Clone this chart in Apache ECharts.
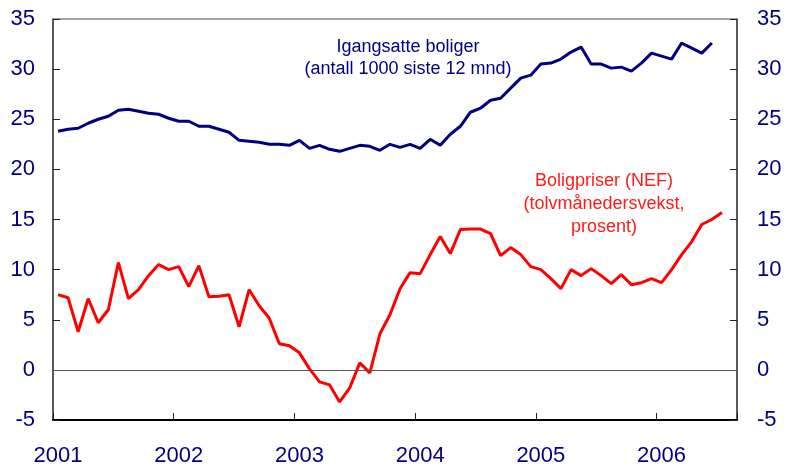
<!DOCTYPE html>
<html>
<head>
    <meta charset="utf-8">
    <script src="https://cdn.jsdelivr.net/npm/echarts@6/dist/echarts.min.js"></script>
    <style>
        html, body {
            margin: 0;
            padding: 0;
            background: #fff;
        }

        #chart {
            width: 787px;
            height: 470px;
        }
    </style>
</head>
<body>
<div id="chart"></div>
<script>
    const years = [2001, 2002, 2003, 2004, 2005, 2006]
    const monthsShownLastYear = 8

    // Igangsatte boliger, antall 1000 siste 12 mnd (jan 2001 - jun 2006)
    const housingStarts = [
        23.8, 24.0, 24.1, 24.6, 25.0, 25.3, 25.9, 26.0, 25.8, 25.6, 25.5, 25.1,
        24.8, 24.8, 24.3, 24.3, 24.0, 23.7, 22.9, 22.8, 22.7, 22.5, 22.5, 22.4,
        22.9, 22.1, 22.4, 22.0, 21.8, 22.1, 22.4, 22.3, 21.9, 22.5, 22.2, 22.5,
        22.1, 23.0, 22.4, 23.5, 24.3, 25.7, 26.1, 26.9, 27.1, 28.1, 29.1, 29.4,
        30.5, 30.6, 31.0, 31.7, 32.2, 30.5, 30.5, 30.1, 30.2, 29.8, 30.6, 31.6,
        31.3, 31.0, 32.6, 32.1, 31.6, 32.6
    ]

    // Boligpriser (NEF), tolvmånedersvekst i prosent (jan 2001 - jul 2006)
    const housePrices = [
        7.5, 7.2, 3.8, 7.1, 4.7, 6.0, 10.7, 7.1, 8.0, 9.4, 10.5, 10.0,
        10.3, 8.3, 10.4, 7.3, 7.35, 7.5, 4.3, 8.0, 6.4, 5.15, 2.6, 2.4,
        1.7, 0.1, -1.2, -1.5, -3.2, -1.8, 0.7, -0.3, 3.6, 5.5, 8.1, 9.7,
        9.6, 11.5, 13.3, 11.6, 14.0, 14.05, 14.05, 13.6, 11.4, 12.2, 11.5, 10.3,
        10.0, 9.1, 8.1, 10.0, 9.4, 10.1, 9.4, 8.6, 9.5, 8.5, 8.7, 9.1,
        8.7, 10.0, 11.5, 12.8, 14.5, 15.0, 15.7
    ]

    const yTicks = [-5, 0, 5, 10, 15, 20, 25, 30, 35]

    const months = []
    years.forEach((y, i) => {
        const n = i === years.length - 1 ? monthsShownLastYear : 12
        for (let m = 1; m <= n; m++) {
            months.push(y + '-' + (m < 10 ? '0' + m : m))
        }
    })

    const navy = '#000080'
    const red = '#ff0000'
    const fontFamily = '"Liberation Sans", Arial, sans-serif'

    const yAxisBase = {
        type: 'value',
        min: yTicks[0],
        max: yTicks[yTicks.length - 1],
        interval: yTicks[1] - yTicks[0],
        axisLine: {show: true, onZero: false, lineStyle: {color: '#222', width: 1.5}},
        axisTick: {show: true, inside: true, length: 7, lineStyle: {color: '#222'}},
        splitLine: {show: false},
        axisLabel: {color: navy, fontSize: 22, fontFamily: fontFamily}
    }

    const chart = echarts.init(document.getElementById('chart'))
    chart.setOption({
        animation: false,
        backgroundColor: '#fff',
        grid: {left: 53, right: 50, top: 19, bottom: 50},
        xAxis: [
            {
                type: 'category',
                data: months,
                boundaryGap: true,
                axisLine: {show: true, onZero: false, lineStyle: {color: '#000', width: 2}},
                axisTick: {
                    show: true,
                    inside: true,
                    length: 7,
                    interval: (i) => i % 12 === 0,
                    lineStyle: {color: '#222'}
                },
                axisLabel: {
                    interval: (i) => i % 12 === 0,
                    formatter: (v) => v.slice(0, 4),
                    color: navy,
                    fontSize: 22,
                    fontFamily: fontFamily,
                    margin: 25
                },
                splitLine: {show: false}
            },
            {
                type: 'category',
                data: months,
                position: 'top',
                axisLine: {show: true, onZero: false, lineStyle: {color: '#888', width: 1.5}},
                axisTick: {show: false},
                axisLabel: {show: false}
            }
        ],
        yAxis: [
            Object.assign({}, yAxisBase, {
                position: 'left',
                axisLabel: Object.assign({}, yAxisBase.axisLabel, {margin: 18})
            }),
            Object.assign({}, yAxisBase, {
                position: 'right',
                axisLabel: Object.assign({}, yAxisBase.axisLabel, {margin: 20})
            })
        ],
        series: [
            {
                name: 'Igangsatte boliger',
                type: 'line',
                data: housingStarts,
                symbol: 'none',
                lineStyle: {color: navy, width: 3},
                markLine: {
                    silent: true,
                    symbol: 'none',
                    label: {show: false},
                    lineStyle: {color: '#555', width: 1, type: 'solid'},
                    data: [{yAxis: 0}]
                }
            },
            {
                name: 'Boligpriser',
                type: 'line',
                data: housePrices,
                symbol: 'none',
                lineStyle: {color: red, width: 3}
            }
        ],
        graphic: [
            {
                type: 'text',
                x: 408,
                y: 36,
                style: {
                    text: 'Igangsatte boliger\n(antall 1000 siste 12 mnd)',
                    align: 'center',
                    verticalAlign: 'top',
                    fill: navy,
                    fontSize: 18,
                    fontFamily: fontFamily,
                    lineHeight: 22
                }
            },
            {
                type: 'text',
                x: 604,
                y: 170,
                style: {
                    text: 'Boligpriser (NEF)\n(tolvmånedersvekst,\nprosent)',
                    align: 'center',
                    verticalAlign: 'top',
                    fill: '#ff1a1a',
                    fontSize: 18,
                    fontFamily: fontFamily,
                    lineHeight: 23
                }
            }
        ]
    })
</script>
</body>
</html>
